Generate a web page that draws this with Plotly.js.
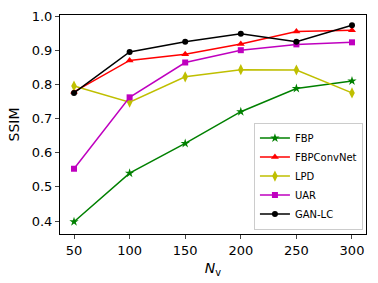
<!DOCTYPE html>
<html><head><meta charset="utf-8">
<script src="https://cdn.plot.ly/plotly-3.0.1.min.js"></script>
<style>html,body{margin:0;padding:0;background:#fff}#c{width:378px;height:283px}</style>
</head><body><div id="c"></div>
<script>
const nv = [50, 100, 150, 200, 250, 300];
const fbp = [0.398, 0.540, 0.627, 0.720, 0.788, 0.810];
const fbpConvNet = [0.778, 0.870, 0.888, 0.918, 0.955, 0.958];
const lpd = [0.795, 0.748, 0.822, 0.843, 0.842, 0.775];
const uar = [0.553, 0.762, 0.864, 0.900, 0.917, 0.923];
const ganLc = [0.775, 0.895, 0.925, 0.948, 0.925, 0.973];
const yTicks = [0.4, 0.5, 0.6, 0.7, 0.8, 0.9, 1.0];
const yTickText = ['0.4','0.5','0.6','0.7','0.8','0.9','1.0'];

function tr(name, y, color, symbol, size) {
  return {x: nv, y: y, name: name, type: 'scatter', mode: 'lines+markers',
    line: {color: color, width: 1.5},
    marker: {color: color, symbol: symbol, size: size}};
}
const data = [
  tr('FBP', fbp, 'green', 'star', 7),
  tr('FBPConvNet', fbpConvNet, 'red', 'triangle-up', 7),
  tr('LPD', lpd, '#bfbf00', 'diamond-tall', 8),
  tr('UAR', uar, '#bf00bf', 'square', 6),
  tr('GAN-LC', ganLc, 'black', 'circle', 6)
];
const layout = {
  width: 378, height: 283,
  margin: {l: 60, r: 12, t: 15, b: 49},
  paper_bgcolor: '#fff', plot_bgcolor: '#fff',
  font: {family: 'DejaVu Sans', size: 13, color: '#000'},
  showlegend: true,
  legend: {x: 0.99, y: 0.02, xanchor: 'right', yanchor: 'bottom',
    bgcolor: '#fff', bordercolor: '#ccc', borderwidth: 1,
    font: {size: 10}, tracegroupgap: 0, itemwidth: 30},
  xaxis: {range: [37.4, 312.6], tickvals: nv, ticks: 'outside', ticklen: 4,
    showgrid: false, zeroline: false, showline: true, mirror: true,
    linecolor: '#000', linewidth: 1, tickfont: {size: 13},
    title: {text: '<i>N</i><sub>v</sub>', font: {size: 14}, standoff: 6}},
  yaxis: {range: [0.362, 1.003], tickvals: yTicks, ticktext: yTickText,
    ticks: 'outside', ticklen: 4, showgrid: false, zeroline: false,
    showline: true, mirror: true, linecolor: '#000', linewidth: 1,
    tickfont: {size: 13}, title: {text: 'SSIM', font: {size: 14}, standoff: 8}}
};
Plotly.newPlot('c', data, layout, {displayModeBar: false, staticPlot: true});
</script></body></html>
